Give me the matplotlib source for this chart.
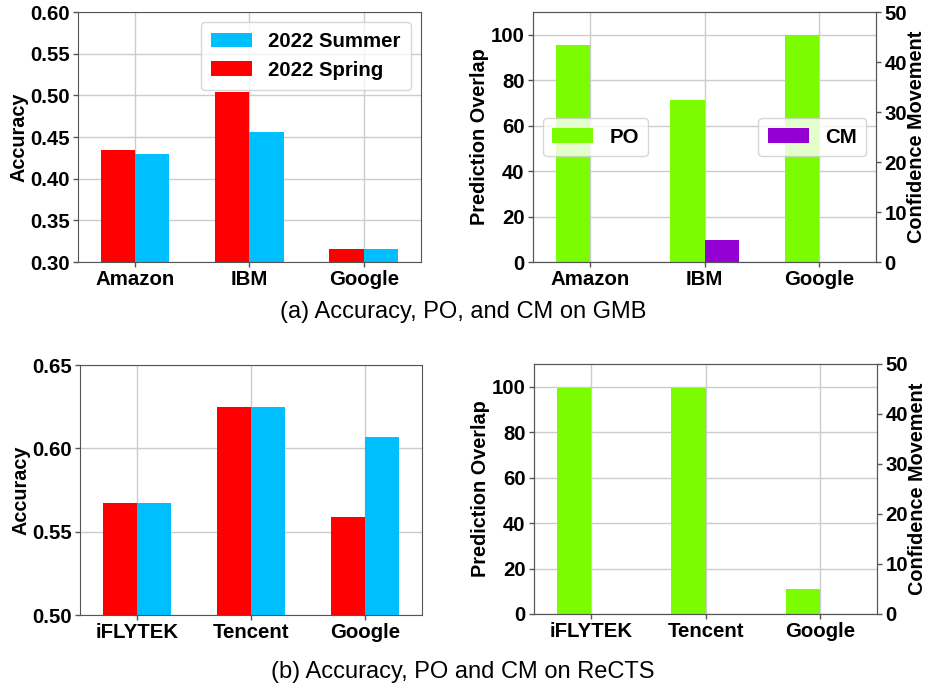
import matplotlib.pyplot as plt

plt.rcParams['font.family'] = ['Liberation Sans', 'DejaVu Sans']

# (a) GMB
gmb_vendors = ["Amazon", "IBM", "Google"]
gmb_spring = [0.434, 0.504, 0.316]
gmb_summer = [0.430, 0.456, 0.316]
gmb_po = [95.3, 71.2, 100.0]
gmb_cm = [0.1, 4.4, 0.0]

# (b) ReCTS
rects_vendors = ["iFLYTEK", "Tencent", "Google"]
rects_spring = [0.567, 0.625, 0.559]
rects_summer = [0.567, 0.625, 0.607]
rects_po = [99.5, 99.6, 10.9]
rects_cm = [0.0, 0.0, 0.0]

RED = "#FF0000"
BLUE = "#00BFFF"
GREEN = "#7CFC00"
PURPLE = "#9400D3"
SPINE = "#555555"
W = 0.3
TICK_FS = 14.7
LABEL_FS = 14.3
LEG = {"weight": "bold", "size": 14.7}


def style_ticks(ax):
    for s in ax.spines.values():
        s.set_color(SPINE)
    ax.tick_params(colors=SPINE, labelcolor="black", length=3.5, width=1, pad=2.5)
    for lab in ax.get_xticklabels() + ax.get_yticklabels():
        lab.set_fontweight("bold")
        lab.set_fontsize(TICK_FS)


def style_ax(ax):
    style_ticks(ax)
    ax.grid(True, color="#CCCCCC", linewidth=1)
    ax.set_axisbelow(True)


def acc_ax(ax, names, spring, summer, ylim, yticks, legend=False):
    x = range(len(names))
    ax.bar([i - W / 2 for i in x], spring, W, color=RED, label="2022 Spring")
    ax.bar([i + W / 2 for i in x], summer, W, color=BLUE, label="2022 Summer")
    ax.set_xlim(-0.5, 2.5)
    ax.set_ylim(*ylim)
    ax.set_yticks(yticks)
    ax.set_yticklabels([f"{t:.2f}" for t in yticks])
    ax.set_xticks(list(x))
    ax.set_xticklabels(names)
    ax.set_ylabel("Accuracy", fontsize=LABEL_FS, fontweight="bold", labelpad=1)
    style_ax(ax)
    if legend:
        h, l = ax.get_legend_handles_labels()
        ax.legend(h[::-1], l[::-1], loc="upper right", prop=LEG,
                  handlelength=2.0, handletextpad=0.8, borderpad=0.5, labelspacing=0.45)


def po_ax(ax, names, po, cm, legend=False):
    x = range(len(names))
    ax.bar([i - W / 2 for i in x], po, W, color=GREEN, label="PO")
    ax.set_xlim(-0.5, 2.5)
    ax.set_ylim(0, 110)
    ax.set_yticks([0, 20, 40, 60, 80, 100])
    ax.set_xticks(list(x))
    ax.set_xticklabels(names)
    ax.set_ylabel("Prediction Overlap", fontsize=LABEL_FS, fontweight="bold", labelpad=1)
    style_ax(ax)
    ax2 = ax.twinx()
    ax2.bar([i + W / 2 for i in x], cm, W, color=PURPLE, label="CM")
    ax2.set_ylim(0, 50)
    ax2.set_yticks([0, 10, 20, 30, 40, 50])
    ax2.set_ylabel("Confidence Movement", fontsize=LABEL_FS, fontweight="bold", labelpad=0)
    style_ticks(ax2)
    if legend:
        ax.legend(loc="center left", prop=LEG,
                  handlelength=2.0, handletextpad=0.8, borderpad=0.45)
        ax2.legend(loc="center right", prop=LEG,
                   handlelength=2.0, handletextpad=0.8, borderpad=0.45)


fig = plt.figure(figsize=(9.26, 6.87), dpi=100)
ax_a1 = fig.add_axes([0.0842, 0.6186, 0.3704, 0.3639])
ax_a2 = fig.add_axes([0.5756, 0.6186, 0.3704, 0.3639])
ax_b1 = fig.add_axes([0.0864, 0.1048, 0.3693, 0.3639])
ax_b2 = fig.add_axes([0.5767, 0.1063, 0.3704, 0.3639])

acc_ax(ax_a1, gmb_vendors, gmb_spring, gmb_summer, (0.30, 0.60),
       [0.30, 0.35, 0.40, 0.45, 0.50, 0.55, 0.60], legend=True)
po_ax(ax_a2, gmb_vendors, gmb_po, gmb_cm, legend=True)
acc_ax(ax_b1, rects_vendors, rects_spring, rects_summer, (0.50, 0.65),
       [0.50, 0.55, 0.60, 0.65])
po_ax(ax_b2, rects_vendors, rects_po, rects_cm)

fig.text(0.5, 0.546, "(a) Accuracy, PO, and CM on GMB", ha="center", va="center", fontsize=17)
fig.text(0.5, 0.022, "(b) Accuracy, PO and CM on ReCTS", ha="center", va="center", fontsize=17)

fig.savefig("out.png", dpi=100)
